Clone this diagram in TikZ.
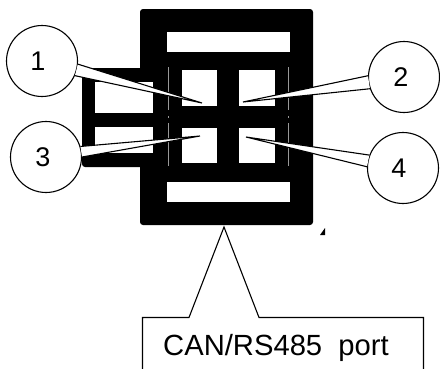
\documentclass[tikz,border=0pt]{standalone}
\usepackage{fontspec}
\setmainfont{Liberation Sans}
\tikzset{
  x=1pt,y=-1pt,
  body/.style={fill=black,draw=none,rounded corners=3pt},
  slot/.style={fill=white,draw=none},
  callout/.style={fill=white,draw=black,line width=1.1pt,line join=miter},
  bubble/.style={circle,draw=black,line width=1.1pt,fill=white,minimum size=71pt,inner sep=0pt},
  numlabel/.style={font=\fontsize{27}{30}\selectfont,inner sep=0pt},
  portlabel/.style={font=\fontsize{29.2}{32}\selectfont,inner sep=0pt,anchor=base},
  seam/.style={draw=white!60!black,line width=0.8pt}
}
\begin{document}
\begin{tikzpicture}
\useasboundingbox (0,0) rectangle (440,368);
% housing
\fill[body] (82,68) rectangle (150,167);
\fill[body] (140,9) rectangle (313,225);
\fill[slot] (95,82) rectangle (153,113);
\fill[slot] (95,127) rectangle (153,153);
\fill[slot] (167,32) rectangle (290,52);
\fill[slot] (167,182) rectangle (290,202);
\fill[slot] (182,70) rectangle (217,106);
\fill[slot] (239,70) rectangle (275,106);
\fill[slot] (182,128) rectangle (217,163);
\fill[slot] (239,128) rectangle (275,163);
\foreach \sx in {168,288} {
  \draw[seam] (\sx,67) -- (\sx,110);
  \draw[seam] (\sx,116) -- (\sx,118);
  \draw[seam] (\sx,123) -- (\sx,166);
}
\fill (325,228) -- (325,235) -- (320,235) -- cycle;
% bubbles
\coordinate (t1) at (202,103);
\coordinate (t2) at (243,102);
\coordinate (t3) at (200,136);
\coordinate (t4) at (246,137);
\node[bubble] (c1) at (42,61) {};
\node[bubble] (c2) at (404,77) {};
\node[bubble] (c3) at (46,157) {};
\node[bubble] (c4) at (403,168) {};
\fill[white] (c1.-5) -- (t1) -- (c1.-24) -- cycle;
\fill[white] (c2.178) -- (t2) -- (c2.199) -- cycle;
\fill[white] (c3.17) -- (t3) -- (c3.0) -- cycle;
\fill[white] (c4.159) -- (t4) -- (c4.178) -- cycle;
\draw[callout,fill=none] (c1.-5) -- (t1) -- (c1.-24);
\draw[callout,fill=none] (c2.178) -- (t2) -- (c2.199);
\draw[callout,fill=none] (c3.17) -- (t3) -- (c3.0);
\draw[callout,fill=none] (c4.159) -- (t4) -- (c4.178);
\node[numlabel] (n1) at (38,61) {1};
\node[numlabel] (n2) at (401,77) {2};
\node[numlabel] (n3) at (43,157) {3};
\node[numlabel] (n4) at (399,168) {4};
% port box
\coordinate (b1) at (142.5,372);
\coordinate (b2) at (142.5,317.5);
\coordinate (b3) at (189,317.5);
\coordinate (b4) at (224,227);
\coordinate (b5) at (259,317.5);
\coordinate (b6) at (423.5,317.5);
\coordinate (b7) at (423.5,372);
\draw[callout] (b1) -- (b2) -- (b3) -- (b4) -- (b5) -- (b6) -- (b7);
\node[portlabel] (port) at (276,355) {CAN/RS485\ \ port};
\end{tikzpicture}
\end{document}
